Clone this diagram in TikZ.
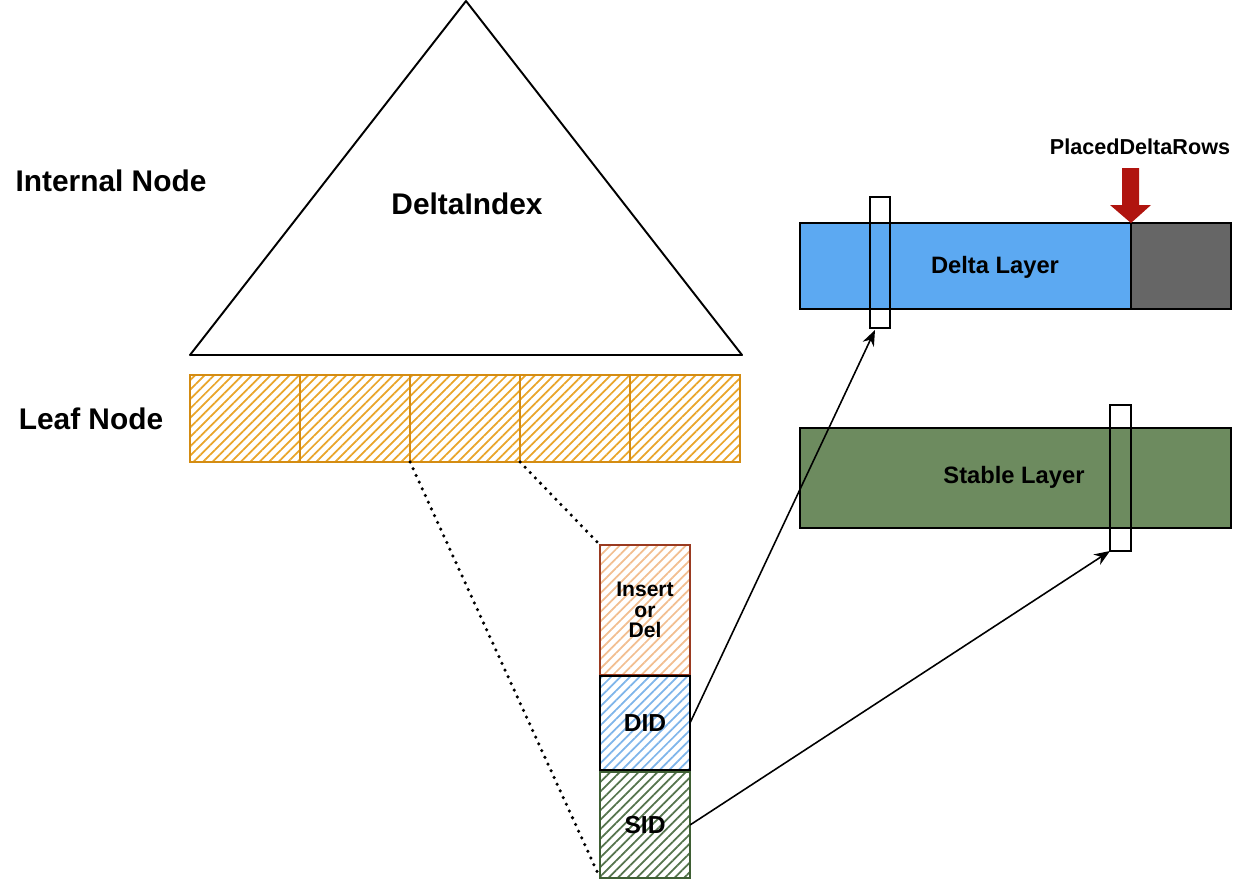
\documentclass[tikz,border=0pt]{standalone}
\usepackage{fontspec}
\setmainfont{Liberation Sans}
\usetikzlibrary{patterns.meta,arrows.meta,calc}
\definecolor{leafline}{HTML}{D48C12}
\definecolor{leafhatch}{HTML}{E9A52A}
\definecolor{insline}{HTML}{9A3A20}
\definecolor{inshatch}{HTML}{F2BE90}
\definecolor{didhatch}{HTML}{7FB5EA}
\definecolor{sidline}{HTML}{3F5F34}
\definecolor{sidhatch}{HTML}{55744D}
\definecolor{deltablue}{HTML}{5CA9F2}
\definecolor{deltagrey}{HTML}{666666}
\definecolor{stablegreen}{HTML}{6D8B5F}
\definecolor{redarrow}{HTML}{B0140F}
\tikzset{
  lbl/.style={font=\bfseries, inner sep=0pt},
  hatch/.style={pattern={Lines[angle=45,distance=3.8pt,line width=1pt]}},
  leafbox/.style={draw=leafline, line width=1.4pt, minimum width=2.2cm, minimum height=1.74cm, inner sep=0pt, outer sep=0pt,
    hatch, pattern color=leafhatch},
  cellbox/.style={line width=1.3pt, minimum width=1.8cm, inner sep=0pt, outer sep=0pt, align=center, font=\bfseries\fontsize{12}{11.6}\selectfont, hatch},
  layer/.style={draw=black, line width=1.6pt, inner sep=0pt, outer sep=0pt},
  slim/.style={draw=black, line width=1.2pt, inner sep=0pt, outer sep=0pt},
  ptr/.style={-{Stealth[length=9pt,width=7pt]}, line width=0.9pt},
  dots/.style={line width=2pt, dash pattern=on 0pt off 4.2pt, line cap=round}
}
\begin{document}
\begin{tikzpicture}[x=0.02cm,y=-0.02cm]
\useasboundingbox (0,0) rectangle (1254,882);
% triangle
\coordinate (apex) at (466,1);
\coordinate (bl) at (190,355);
\coordinate (br) at (742,355);
\draw[line width=1.1pt, line join=round] (apex) -- (bl) -- (br) -- cycle;
\node[lbl, font=\bfseries\fontsize{17}{17}\selectfont] (di) at (467,204) {DeltaIndex};
% side labels
\node[lbl, font=\bfseries\fontsize{17}{17}\selectfont] (internal) at (111,181) {Internal Node};
\node[lbl, font=\bfseries\fontsize{17}{17}\selectfont] (leaf) at (91,419) {Leaf Node};
% leaf boxes
\node[leafbox] (l1) at (245,418.5) {};
\node[leafbox] (l2) at (355,418.5) {};
\node[leafbox] (l3) at (465,418.5) {};
\node[leafbox] (l4) at (575,418.5) {};
\node[leafbox] (l5) at (685,418.5) {};
% entry cells
\node[cellbox, draw=insline, minimum height=2.6cm, pattern color=inshatch] (ins) at (645,610) {Insert\\or\\Del};
\node[cellbox, draw=black, minimum height=1.88cm, pattern color=didhatch] (did) at (645,723) {\fontsize{14}{14}\selectfont DID};
\node[cellbox, draw=sidline, minimum height=2.12cm, pattern color=sidhatch] (sid) at (645,825) {\fontsize{14}{14}\selectfont SID};
% dotted zoom lines
\draw[dots] (l3.south west) -- (sid.south west);
\draw[dots] (l4.south west) -- (ins.north west);
% delta layer
\node[layer, fill=deltablue, minimum width=6.62cm, minimum height=1.72cm] (dblue) at (965.5,266) {};
\node[layer, fill=deltagrey, minimum width=2cm, minimum height=1.72cm] (dgrey) at (1181,266) {};
\node[lbl, font=\bfseries\fontsize{13.5}{13.5}\selectfont] (dtext) at (995,267) {Delta Layer};
\node[slim, minimum width=0.4cm, minimum height=2.62cm] (slimD) at (880,262.5) {};
% stable layer
\node[layer, fill=stablegreen, minimum width=8.62cm, minimum height=2cm] (stable) at (1015.5,478) {};
\node[lbl, font=\bfseries\fontsize{13.5}{13.5}\selectfont] (stext) at (1014,477) {Stable Layer};
\node[slim, minimum width=0.42cm, minimum height=2.92cm] (slimS) at (1120.5,478) {};
% PlacedDeltaRows marker
\node[lbl, font=\bfseries\fontsize{12.3}{12.3}\selectfont] (pdr) at (1140,147) {PlacedDeltaRows};
\fill[redarrow] (1122,168) -- (1139,168) -- (1139,205) -- (1151,205) -- (dblue.north east) -- (1110,205) -- (1122,205) -- cycle;
% pointers
\draw[ptr] (did.east) -- ($(slimD.south)+(-5,2)$);
\draw[ptr] (sid.east) -- (slimS.south west);
\end{tikzpicture}
\end{document}
